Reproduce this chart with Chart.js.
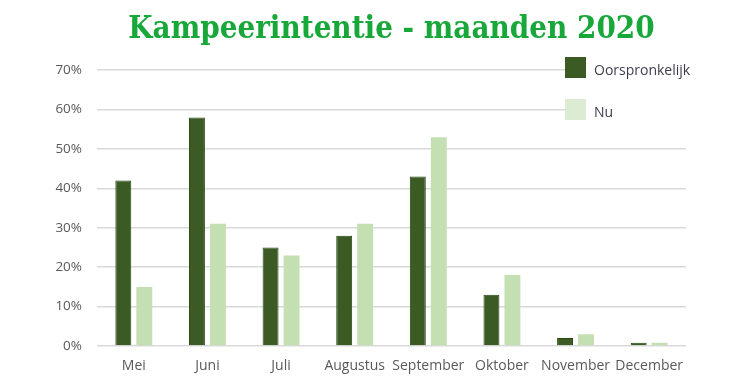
<!DOCTYPE html>
<html><head><meta charset="utf-8">
<script src="https://cdn.jsdelivr.net/npm/chart.js@4/dist/chart.umd.min.js"></script>
<style>html,body{margin:0;padding:0;background:#fff}#wrap{width:737px;height:381px}</style>
</head><body><div id="wrap"><canvas id="c" width="737" height="381"></canvas></div>
<script>
const titleText = 'Kampeerintentie - maanden 2020';
const categories = ['Mei','Juni','Juli','Augustus','September','Oktober','November','December'];
const seriesNames = ['Oorspronkelijk','Nu'];
const oorspronkelijk = [42,58,25,28,43,13,2,0.8];
const nu = [15,31,23,31,53,18,3,0.8];
const yTicks = [0,10,20,30,40,50,60,70];

const legendPlugin = {
  id:'sideLegend',
  afterDraw(chart){
    const ctx = chart.ctx;
    ctx.save();
    ctx.fillStyle = '#fff';
    ctx.fillRect(565,54,140,72);
    const items = chart.data.datasets;
    const sw = ['#3b5a24','#dcecd3'];
    items.forEach((ds,i)=>{
      const y = 57 + i*42;
      ctx.fillStyle = sw[i];
      ctx.fillRect(565,y,21,21);
      ctx.fillStyle = '#3d3d4d';
      ctx.font = '14px "Open Sans", sans-serif';
      ctx.textBaseline = 'middle';
      ctx.textAlign = 'left';
      ctx.fillText(ds.label, 594, y+14);
    });
    ctx.restore();
  }
};

new Chart(document.getElementById('c'),{
  type:'bar',
  data:{labels:categories,datasets:[
    {label:seriesNames[0],data:oorspronkelijk,backgroundColor:'#3b5a24',borderColor:'#264a12',borderWidth:1,categoryPercentage:0.57,barPercentage:0.76},
    {label:seriesNames[1],data:nu,backgroundColor:'#c4e0b3',borderWidth:0,categoryPercentage:0.57,barPercentage:0.76}
  ]},
  options:{
    responsive:false,animation:false,
    layout:{padding:{left:51,right:51,top:0,bottom:6}},
    plugins:{
      legend:{display:false},tooltip:{enabled:false},
      title:{display:true,fullSize:false,text:titleText,color:'#18a83a',font:{family:'"DejaVu Serif Condensed", "DejaVu Serif", serif',size:31,weight:'bold'},padding:{top:11,bottom:22}}
    },
    scales:{
      x:{afterFit(s){s.height=29;},grid:{display:false,drawTicks:false,tickLength:0},border:{display:false},ticks:{color:'#595959',font:{family:'"Open Sans", sans-serif',size:14},padding:12,maxRotation:0,autoSkip:false}},
      y:{min:0,max:70,afterBuildTicks(s){s.ticks=yTicks.map(v=>({value:v}));},
         afterFit(s){s.width=46;},
         grid:{color:'#d9d9d9',lineWidth:1.5,drawTicks:false},border:{display:false},
         ticks:{color:'#595959',font:{family:'"Open Sans", sans-serif',size:13.5},padding:15,callback:v=>v+'%'}}
    }
  },
  plugins:[legendPlugin]
});
</script></body></html>
